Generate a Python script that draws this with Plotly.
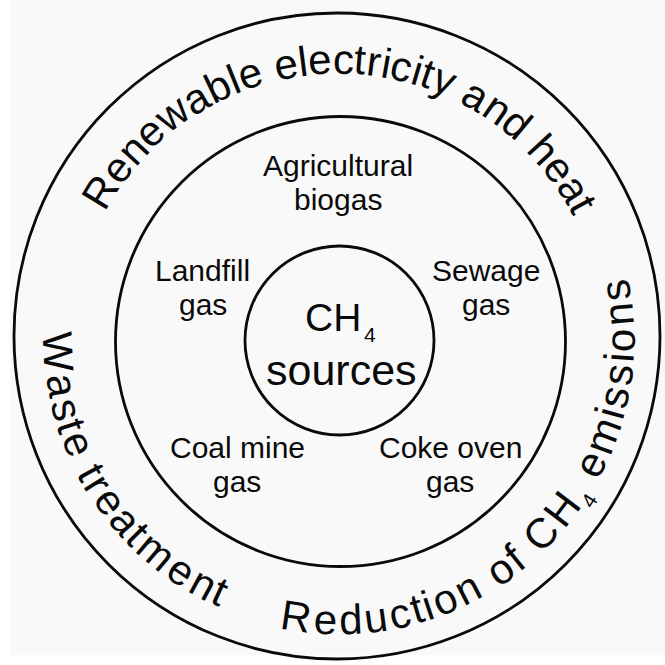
import math
import plotly.graph_objects as go

# ---------------- data (texts) ----------------
outer_top_label = "Renewable electricity and heat"
outer_left_label = "Waste treatment"
outer_right_segments = ["Reduction of CH", "4", " emissions"]   # middle segment is a subscript
inner_ring_labels = [
    ["Agricultural", "biogas"],
    ["Landfill", "gas"],
    ["Sewage", "gas"],
    ["Coal mine", "gas"],
    ["Coke oven", "gas"],
]
center_main = "CH"
center_sub = "4"
center_second = "sources"

# ---------------- layout / style ----------------
W = H = 665
FONT = "Liberation Sans, Arial, Helvetica, sans-serif"
INK = "#0a0a0a"
CX, CY = 338.0, 338.0          # centre used for the curved ring text

circles = [  # (cx, cy, r)
    (337.0, 336.0, 323.0),
    (340.5, 341.5, 225.0),
    (339.5, 340.5, 94.5),
]

# positions of inner labels: (x centre, baseline of line 1, baseline of line 2)
inner_pos = [
    (337.5, 176, 210),
    (202.5, 281, 315),
    (485.5, 281, 315),
    (237.0, 458, 492),
    (450.0, 458, 492),
]
INNER_FS = 30

AFM = {'R': 722, 'e': 556, 'n': 556, 'w': 722, 'a': 556, 'b': 556, 'l': 222, ' ': 278,
       'c': 500, 't': 278, 'r': 333, 'i': 222, 'y': 500, 'd': 556, 'h': 556, 'W': 944,
       's': 500, 'm': 833, 'u': 556, 'o': 556, 'f': 278, 'C': 722, 'H': 722, '4': 556}

annotations = []


def add_text(x, y, text, fs, angle=0):
    annotations.append(dict(x=x, y=y, xref="x", yref="y", text=text, showarrow=False,
                            xanchor="center", yanchor="middle", textangle=angle,
                            font=dict(family=FONT, size=fs, color=INK)))


def ring_text(segments, th_start, th_end, r_box, fs, clockwise):
    """segments: list of (text, scale, advance_factor, radial_offset)"""
    items = []
    pos = 0.0
    for text, scale, adv, roff in segments:
        for ch in text:
            w = AFM.get(ch, 556) / 1000.0 * adv
            items.append((ch, pos + w / 2, scale, roff))
            pos += w
    p0, p1 = items[0][1], items[-1][1]
    for ch, p, scale, roff in items:
        if ch == ' ':
            continue
        t = (p - p0) / (p1 - p0)
        th = th_start + t * (th_end - th_start)
        rad = math.radians(th)
        r = r_box + roff
        x = CX + r * math.cos(rad)
        y = CY - r * math.sin(rad)
        ang = (90 - th) if clockwise else (270 - th)
        add_text(x, y, ch, fs * scale, ang)


OUTER_FS = 42
ring_text([(outer_top_label, 1.0, 1.0, 0.0)], 148.4, 28.5, 279, OUTER_FS, clockwise=True)
ring_text([(outer_left_label, 1.0, 1.0, 0.0)], 182.9, 245.1, 280, OUTER_FS, clockwise=False)
ring_text([(outer_right_segments[0], 1.0, 1.0, 0.0),
           (outer_right_segments[1], 0.5, 0.42, 17.0),
           (outer_right_segments[2], 1.0, 1.0, 0.0)],
          261.5, 369.6, 282, OUTER_FS, clockwise=False)

for (lines, (x, b1, b2)) in zip(inner_ring_labels, inner_pos):
    add_text(x, b1 - 0.35 * INNER_FS, lines[0], INNER_FS)
    add_text(x, b2 - 0.35 * INNER_FS, lines[1], INNER_FS)

add_text(332.5, 330.7 - 0.35 * 39, center_main, 39)
add_text(369.5, 334.5, center_sub, 21)
add_text(341.0, 385 - 0.35 * 43, center_second, 43)

shapes = [dict(type="rect", xref="x", yref="y", x0=10, x1=665, y0=0, y1=655,
               fillcolor="#f9f9f9", line=dict(width=0), layer="below")]
for cx, cy, r in circles:
    shapes.append(dict(type="circle", xref="x", yref="y", x0=cx - r, x1=cx + r,
                       y0=cy - r, y1=cy + r, line=dict(color=INK, width=2.8)))

fig = go.Figure()
fig.update_layout(
    width=W, height=H, margin=dict(l=0, r=0, t=0, b=0),
    paper_bgcolor="#ffffff", plot_bgcolor="rgba(0,0,0,0)",
    xaxis=dict(range=[0, W], visible=False, fixedrange=True),
    yaxis=dict(range=[H, 0], visible=False, fixedrange=True),
    shapes=shapes, annotations=annotations, showlegend=False,
)
fig.write_html("out.html", config={"displayModeBar": False},
               post_script="document.body.style.margin='0';document.body.style.overflow='hidden';")
